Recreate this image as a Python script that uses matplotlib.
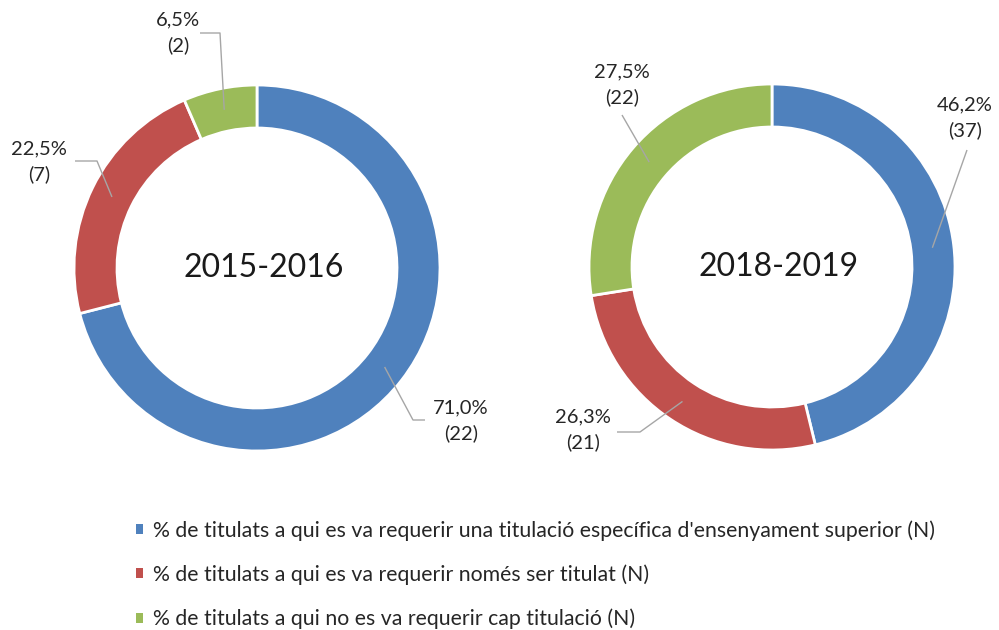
import numpy as np
import matplotlib.pyplot as plt

plt.rcParams['font.family'] = ['Lato', 'DejaVu Sans']

# Data
categories = [
    "% de titulats a qui es va requerir una titulació específica d'ensenyament superior (N)",
    "% de titulats a qui es va requerir només ser titulat (N)",
    "% de titulats a qui no es va requerir cap titulació (N)",
]
colors = ['#4F81BD', '#C0504D', '#9BBB59']

years = ['2015-2016', '2018-2019']
pct_2015 = [71.0, 22.5, 6.5]
n_2015 = [22, 7, 2]
pct_2018 = [46.2, 26.3, 27.5]
n_2018 = [37, 21, 22]

# Layout (pixel coordinates, y measured from the top)
H = 630
R = 183
RING = 43
centers = [(257, 268), (772, 267)]
# label text centre and leader line path (text side first) for each slice
label_pos = [
    [(461, 421), (39, 162), (178, 33)],
    [(965, 118), (583, 430), (622, 85)],
]
leader_pts = [
    [[(425, 420), (413, 420)], [(75, 161), (97, 161)], [(200, 33), (220, 33)]],
    [[(967, 150)], [(617, 432), (640, 432)], [(622, 115)]],
]

fig = plt.figure(figsize=(9.99, 6.30), dpi=100)
ax = fig.add_axes([0, 0, 1, 1])


def fy(y):
    return H - y


wedges_first = None
for k, (pcts, ns) in enumerate([(pct_2015, n_2015), (pct_2018, n_2018)]):
    cx, cy = centers[k]
    wedges, _ = ax.pie(pcts, colors=colors, startangle=90, counterclock=False,
                       center=(cx, fy(cy)), radius=R, frame=True,
                       wedgeprops=dict(width=RING, edgecolor='white', linewidth=2))
    if wedges_first is None:
        wedges_first = wedges
    ax.text(cx + 7, fy(cy), years[k], ha='center', va='center', fontsize=23, color='#1a1a1a')

    total = sum(pcts)
    cum = 0
    for i, (p, n) in enumerate(zip(pcts, ns)):
        mid = (cum + p / 2) / total * 2 * np.pi
        cum += p
        rm = R - RING / 2
        ax_pt = (cx + rm * np.sin(mid), fy(cy - rm * np.cos(mid)))
        pts = [(x, fy(y)) for x, y in leader_pts[k][i]] + [ax_pt]
        xs, ys = zip(*pts)
        ax.plot(xs, ys, color='#a6a6a6', linewidth=1, solid_capstyle='butt')
        tx, ty = label_pos[k][i]
        ax.text(tx, fy(ty), f"{p:.1f}%".replace('.', ',') + f"\n({n})",
                ha='center', va='center', fontsize=14.5, color='#262626', linespacing=1.55)

ax.set_xlim(0, 999)
ax.set_ylim(0, H)
ax.set_aspect('equal')
ax.axis('off')

leg = ax.legend(wedges_first, categories, loc='upper left', bbox_to_anchor=(136 / 999, 1 - 520 / H),
                frameon=False, fontsize=15.3, handlelength=0.34, handleheight=0.34,
                handletextpad=0.45, labelspacing=1.12, borderpad=0, borderaxespad=0,
                labelcolor='#262626')
for h in leg.legend_handles:
    h.set_edgecolor('none')

fig.savefig('out.png', dpi=100, facecolor='white')
